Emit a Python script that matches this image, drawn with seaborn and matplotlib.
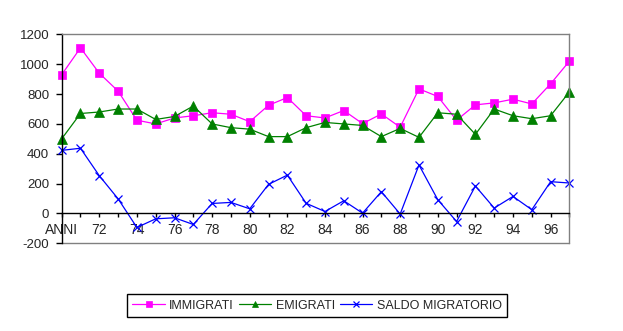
import matplotlib
matplotlib.use("Agg")
import matplotlib.pyplot as plt
import seaborn as sns
import numpy as np
import pandas as pd

# ---- data ----
anni = ["ANNI"] + [str(y) for y in range(71, 98)]
immigrati = [930, 1110, 940, 820, 625, 600, 640, 655, 675, 665, 615, 725, 777, 655,
             640, 690, 602, 667, 578, 835, 784, 625, 728, 741, 766, 734, 869, 1021]
emigrati = [500, 670, 680, 700, 700, 630, 650, 720, 600, 575, 565, 515, 515, 575,
            610, 600, 590, 515, 570, 510, 675, 665, 530, 700, 655, 635, 655, 815]
saldo = [423, 437, 253, 98, -94, -36, -29, -74, 67, 74, 31, 195, 257, 68,
         13, 85, 2, 146, -4, 325, 92, -54, 184, 36, 114, 25, 213, 204]
series_names = ["IMMIGRATI", "EMIGRATI", "SALDO MIGRATORIO"]
yticks = [-200, 0, 200, 400, 600, 800, 1000, 1200]

sns.set_style("white")
plt.rcParams["font.family"] = ["Liberation Sans", "DejaVu Sans"]

fig = plt.figure(figsize=(6.23, 3.31), dpi=100)
ax = fig.add_axes([0.099, 0.265, 0.815, 0.631])

x = np.arange(len(anni))
df = pd.DataFrame({"x": x, "IMMIGRATI": immigrati, "EMIGRATI": emigrati,
                   "SALDO MIGRATORIO": saldo})

styles = {
    "IMMIGRATI": dict(color="#ff00ff", marker="s", markersize=6, mew=0.5),
    "EMIGRATI": dict(color="#008000", marker="^", markersize=6.5, mew=0.5),
    "SALDO MIGRATORIO": dict(color="#0000ff", marker="x", markersize=6, mew=0.9),
}
for name in series_names:
    st = styles[name]
    sns.lineplot(data=df, x="x", y=name, ax=ax, color=st["color"], marker=st["marker"],
                 markersize=st["markersize"], markeredgecolor=st["color"],
                 markerfacecolor=st["color"], markeredgewidth=st["mew"],
                 linewidth=0.9, label=name, clip_on=False)

ax.set_xlim(0, len(anni) - 1)
ax.set_ylim(-200, 1200)
ax.set_yticks(yticks)
ax.set_yticklabels([str(v) for v in yticks], fontsize=9.5)
ax.set_xticks(x)
ax.set_xticklabels([lab if i % 2 == 0 else "" for i, lab in enumerate(anni)], fontsize=9.5)
ax.set_xlabel("")
ax.set_ylabel("")

# spines
gray = "#808080"
for s in ["top", "right"]:
    ax.spines[s].set_color(gray)
    ax.spines[s].set_linewidth(1)
ax.spines["left"].set_color("black")
ax.spines["left"].set_linewidth(1)
ax.spines["bottom"].set_position(("data", 0))
ax.spines["bottom"].set_color("black")
ax.spines["bottom"].set_linewidth(1)
ax.plot([0, 1], [0, 0], transform=ax.transAxes, color=gray, lw=1, clip_on=False)

ax.tick_params(axis="y", direction="out", length=4, width=1, color="black", pad=5)
ax.tick_params(axis="x", direction="out", length=3, width=1, color="black", pad=4)
ax.tick_params(left=True, bottom=True)

leg = ax.get_legend()
if leg:
    leg.remove()
handles, labels = ax.get_legend_handles_labels()
fig.legend(handles, labels, loc="center", bbox_to_anchor=(0.509, 0.077), ncol=3,
           fancybox=False, edgecolor="black", framealpha=1, fontsize=9,
           handlelength=2.6, handletextpad=0.35, columnspacing=0.4,
           borderpad=0.45, borderaxespad=0, markerscale=0.7)
fig.legends[0].get_frame().set_linewidth(1)

fig.savefig("out.png", dpi=100, facecolor="white")
